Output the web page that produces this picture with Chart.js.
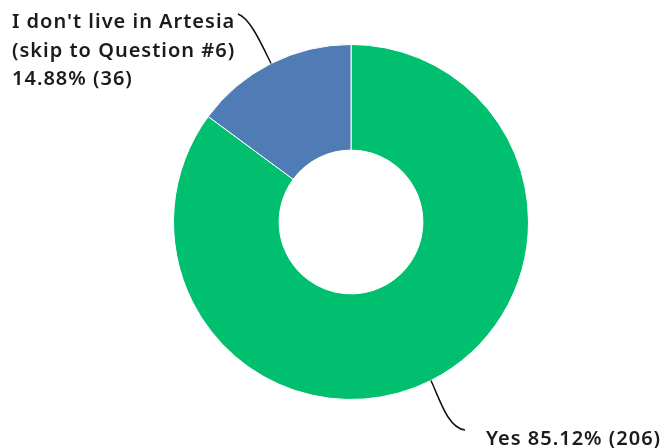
<!DOCTYPE html>
<html>
<head>
<meta charset="utf-8">
<script src="https://cdn.jsdelivr.net/npm/chart.js@4.4.0/dist/chart.umd.min.js"></script>
<style>
  html, body { margin: 0; padding: 0; background: #fff; }
  #wrap { width: 666px; height: 448px; position: relative; }
</style>
</head>
<body>
<div id="wrap"><canvas id="donut"></canvas></div>
<script>
// Answer choices, share of responses (%) and response counts
const categories = ['Yes', "I don't live in Artesia (skip to Question #6)"];
const percents = [85.12, 14.88];
const counts = [206, 36];
const colors = ['#00bf6f', '#507cb6'];

// label text lines per slice
const labelLines = [
    ['Yes ' + percents[0].toFixed(2) + '% (' + counts[0] + ')'],
    ["I don't live in Artesia", '(skip to Question #6)', percents[1].toFixed(2) + '% (' + counts[1] + ')']
];

// Draws the outside labels with curved leader lines
const calloutPlugin = {
    id: 'callouts',
    afterDraw(chart, args, opts) {
        const ctx = chart.ctx;
        const meta = chart.getDatasetMeta(0);
        ctx.save();
        ctx.font = opts.font;
        ctx.letterSpacing = '1px';
        ctx.fillStyle = '#1b1b1b';
        ctx.textBaseline = 'alphabetic';
        ctx.textAlign = 'left';
        meta.data.forEach(function(arc, i) {
            const p = opts.places[i];
            const mid = (arc.startAngle + arc.endAngle) / 2;
            const sx = arc.x + Math.cos(mid) * arc.outerRadius;
            const sy = arc.y + Math.sin(mid) * arc.outerRadius;
            ctx.beginPath();
            ctx.strokeStyle = '#111';
            ctx.lineWidth = 1.5;
            ctx.moveTo(sx, sy);
            ctx.bezierCurveTo(p.c1[0], p.c1[1], p.c2[0], p.c2[1], p.end[0], p.end[1]);
            ctx.stroke();
            labelLines[i].forEach(function(line, k) {
                ctx.fillText(line, p.x, p.y + k * 28.5);
            });
        });
        ctx.restore();
    }
};

new Chart(document.getElementById('donut'), {
    type: 'doughnut',
    data: {
        labels: categories,
        datasets: [{
            data: counts,
            backgroundColor: colors,
            borderColor: '#ffffff',
            borderWidth: 1,
            hoverOffset: 0
        }]
    },
    options: {
        responsive: true,
        maintainAspectRatio: false,
        animation: false,
        cutout: '40.5%',
        layout: {
            padding: { top: 44, bottom: 48, left: 173, right: 137 }
        },
        plugins: {
            legend: { display: false },
            tooltip: { enabled: false },
            callouts: {
                font: '600 20px "Noto Sans"',
                places: [
                    { x: 486, y: 445, end: [465, 430], c1: [440, 400], c2: [448, 428] },
                    { x: 12, y: 28, end: [238, 14], c1: [262, 45], c2: [250, 18] }
                ]
            }
        }
    },
    plugins: [calloutPlugin]
});
</script>
</body>
</html>
